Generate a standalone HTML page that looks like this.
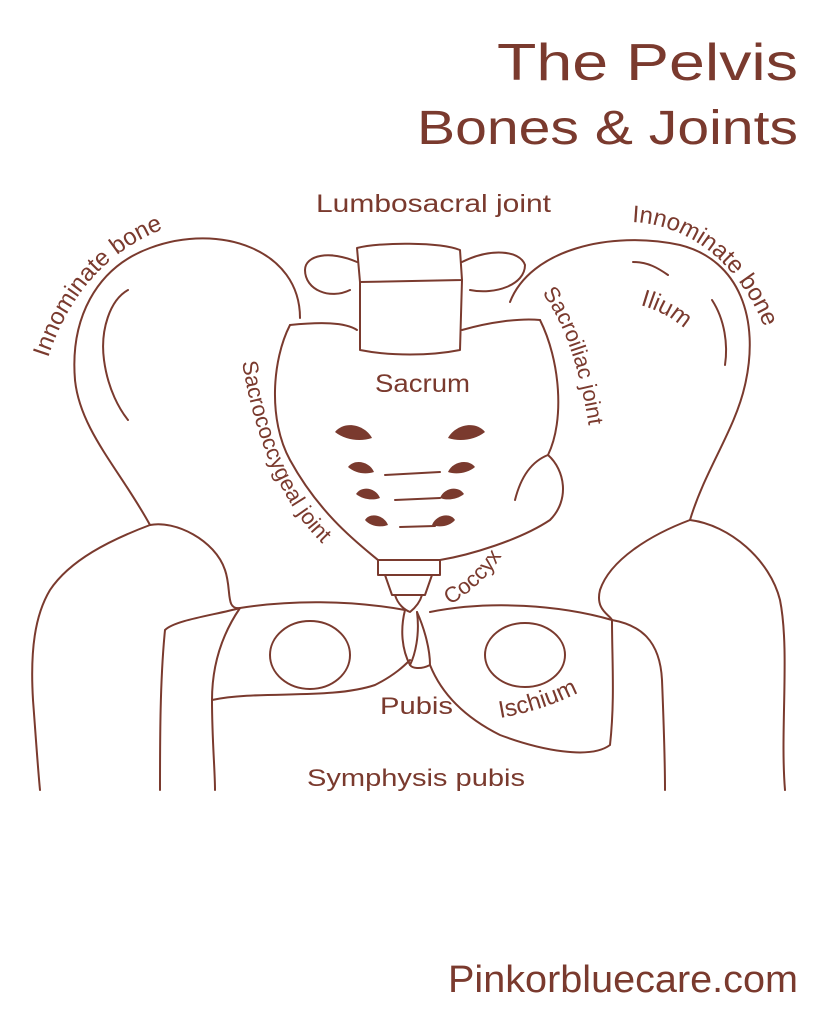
<!DOCTYPE html>
<html><head><meta charset="utf-8"><style>
html,body{margin:0;padding:0;background:#fff;}
svg{display:block;}
text{font-family:"Liberation Sans",sans-serif;fill:#7a3a2e;}
</style></head><body>
<svg width="823" height="1024" viewBox="0 0 823 1024" xmlns="http://www.w3.org/2000/svg">
<defs>
<path id="pL" d="M48,358 C70,290 120,230 208,218"/>
<path id="pR" d="M632,222 C700,225 760,280 778,375"/>
<path id="pIl" d="M640,305 C665,312 685,325 698,345"/>
<path id="pSI" d="M542,293 C570,330 585,390 592,450"/>
<path id="pSC" d="M242,362 C255,440 285,520 342,560"/>
<path id="pCo" d="M450,605 C475,590 498,568 510,540"/>
<path id="pIs" d="M500,718 C535,712 570,700 600,680"/>
</defs>
<g fill="none" stroke="#7a3a2e" stroke-width="2" stroke-linecap="round" stroke-linejoin="round">
<path d="M300,318 C300,250 220,222 150,248 C95,268 70,320 75,380 C80,430 120,470 150,525"/>
<path d="M128,290 C110,300 100,330 104,360 C108,390 120,410 128,420"/>
<path d="M150,525 C175,520 215,540 225,570 C232,590 225,610 240,608"/>
<path d="M150,525 C110,540 70,560 50,590 C35,615 30,650 33,700 C36,740 38,770 40,790"/>
<path d="M240,608 C215,615 175,620 165,630 C160,680 160,740 160,790"/>
<path d="M240,608 C225,630 212,660 212,700 C212,740 215,770 215,790"/>
<path d="M212,700 C260,690 330,700 375,685 C395,675 405,665 410,660"/>
<ellipse cx="310" cy="655" rx="40" ry="34"/>
<path d="M240,608 C290,600 350,600 405,610"/>
<path d="M510,302 C530,250 610,230 680,245 C740,260 760,320 745,385 C735,430 705,470 690,520"/>
<path d="M712,300 C725,320 728,345 725,365"/>
<path d="M633,262 C648,262 658,268 668,275"/>
<path d="M690,520 C730,525 770,560 780,600 C790,650 780,730 785,790"/>
<path d="M690,520 C650,535 610,560 600,590 C595,610 610,615 612,620"/>
<path d="M612,620 C640,625 660,640 662,680 C664,730 665,770 665,790"/>
<path d="M612,620 C612,660 615,700 610,745 C590,760 540,750 500,735 C460,715 440,690 430,665"/>
<ellipse cx="525" cy="655" rx="40" ry="32"/>
<path d="M612,620 C560,605 490,600 430,612"/>
<path d="M405,610 C400,630 402,650 410,665 C415,655 420,635 417,612"/>
<path d="M417,612 C425,630 430,650 430,665 C420,670 412,668 410,665"/>
<path d="M290,325 C272,360 268,420 290,460 C320,515 360,545 378,560"/>
<path d="M290,325 C320,322 345,322 357,330"/>
<path d="M540,320 C560,360 565,420 548,455 C565,470 570,500 550,520 C520,540 470,555 440,560"/>
<path d="M378,560 L440,560"/>
<path d="M462,330 C490,322 520,318 540,320"/>
<path d="M548,455 C530,462 520,480 515,500"/>
<path d="M357,248 C380,242 440,242 460,250 L462,280 L360,282 Z"/>
<path d="M360,282 L360,350 C390,356 430,356 460,350 L462,280"/>
<path d="M357,262 C330,250 305,255 305,270 C305,290 330,300 350,290"/>
<path d="M462,262 C490,248 520,250 525,265 C525,285 495,295 470,290"/>
<path d="M378,560 L378,575 L440,575 L440,560"/>
<path d="M385,575 L392,595 L425,595 L432,575"/>
<path d="M395,595 C398,605 405,610 410,612 C415,608 420,602 422,595"/>
<path d="M385,475 L440,472"/>
<path d="M395,500 L440,498"/>
<path d="M400,527 L435,526"/>
</g>
<g fill="#7a3a2e">
<path d="M335,432 C345,420 365,425 372,438 C360,442 345,440 335,432Z"/>
<path d="M448,438 C455,425 475,420 485,432 C475,440 460,442 448,438Z"/>
<path d="M348,467 C355,458 370,462 374,472 C365,475 355,473 348,467Z"/>
<path d="M448,472 C452,462 468,458 475,467 C468,473 456,475 448,472Z"/>
<path d="M356,494 C362,485 376,488 380,498 C372,501 362,499 356,494Z"/>
<path d="M440,498 C444,488 458,485 464,494 C458,499 448,501 440,498Z"/>
<path d="M365,520 C370,512 384,515 388,525 C380,528 370,526 365,520Z"/>
<path d="M432,525 C436,515 450,512 455,520 C450,526 440,528 432,525Z"/>
</g>
<text x="497" y="80" font-size="52" textLength="301" lengthAdjust="spacingAndGlyphs">The Pelvis</text>
<text x="417" y="144" font-size="48" textLength="381" lengthAdjust="spacingAndGlyphs">Bones &amp; Joints</text>
<text x="316" y="212" font-size="25" textLength="235" lengthAdjust="spacingAndGlyphs">Lumbosacral joint</text>
<text font-size="24"><textPath href="#pL">Innominate bone</textPath></text>
<text font-size="24"><textPath href="#pR">Innominate bone</textPath></text>
<text font-size="24"><textPath href="#pIl">Ilium</textPath></text>
<text font-size="22"><textPath href="#pSI">Sacroiliac joint</textPath></text>
<text font-size="22"><textPath href="#pSC">Sacrococcygeal joint</textPath></text>
<text x="375" y="392" font-size="25" textLength="95" lengthAdjust="spacingAndGlyphs">Sacrum</text>
<text font-size="22"><textPath href="#pCo">Coccyx</textPath></text>
<text x="380" y="714" font-size="24" textLength="73" lengthAdjust="spacingAndGlyphs">Pubis</text>
<text font-size="24"><textPath href="#pIs">Ischium</textPath></text>
<text x="307" y="786" font-size="24" textLength="218" lengthAdjust="spacingAndGlyphs">Symphysis pubis</text>
<text x="448" y="992" font-size="38" textLength="350" lengthAdjust="spacingAndGlyphs">Pinkorbluecare.com</text>
</svg>
</body></html>
